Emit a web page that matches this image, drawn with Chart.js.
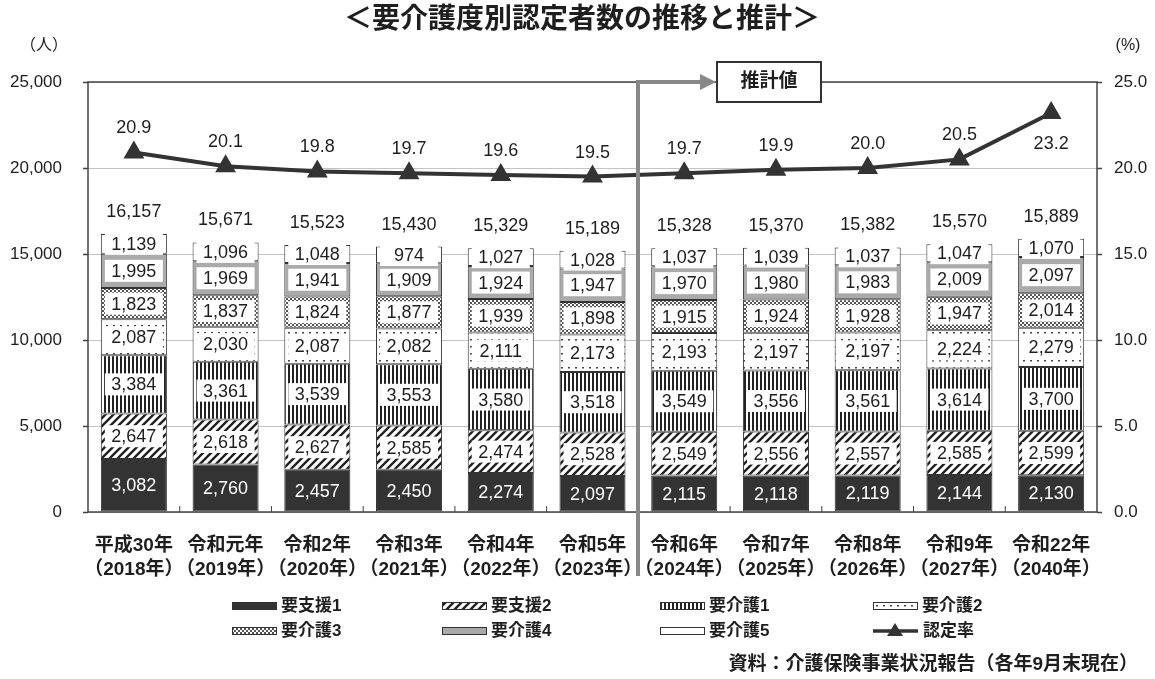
<!DOCTYPE html>
<html lang="ja">
<head>
<meta charset="utf-8">
<title>要介護度別認定者数の推移と推計</title>
<script src="https://cdn.jsdelivr.net/npm/chart.js@4.4.1/dist/chart.umd.min.js"></script>
<style>
  html, body { margin: 0; padding: 0; background: #fff; }
  canvas { display: block; }
</style>
</head>
<body>
<canvas id="chart" width="1155" height="679"></canvas>
<script>
/* ── data ──────────────────────────────────────────────────── */
const categories = [
  ["平成30年", "（2018年）"], ["令和元年", "（2019年）"], ["令和2年", "（2020年）"],
  ["令和3年", "（2021年）"], ["令和4年", "（2022年）"], ["令和5年", "（2023年）"],
  ["令和6年", "（2024年）"], ["令和7年", "（2025年）"], ["令和8年", "（2026年）"],
  ["令和9年", "（2027年）"], ["令和22年", "（2040年）"]
];
const shien1  = [3082, 2760, 2457, 2450, 2274, 2097, 2115, 2118, 2119, 2144, 2130];
const shien2  = [2647, 2618, 2627, 2585, 2474, 2528, 2549, 2556, 2557, 2585, 2599];
const kaigo1  = [3384, 3361, 3539, 3553, 3580, 3518, 3549, 3556, 3561, 3614, 3700];
const kaigo2  = [2087, 2030, 2087, 2082, 2111, 2173, 2193, 2197, 2197, 2224, 2279];
const kaigo3  = [1823, 1837, 1824, 1877, 1939, 1898, 1915, 1924, 1928, 1947, 2014];
const kaigo4  = [1995, 1969, 1941, 1909, 1924, 1947, 1970, 1980, 1983, 2009, 2097];
const kaigo5  = [1139, 1096, 1048, 974, 1027, 1028, 1037, 1039, 1037, 1047, 1070];
const totals  = [16157, 15671, 15523, 15430, 15329, 15189, 15328, 15370, 15382, 15570, 15889];
const rate    = [20.9, 20.1, 19.8, 19.7, 19.6, 19.5, 19.7, 19.9, 20.0, 20.5, 23.2];
const leftTicks  = [0, 5000, 10000, 15000, 20000, 25000];
const rightTicks = [0, 5, 10, 15, 20, 25];

const FONT = '"Liberation Sans", Arial, "Noto Sans CJK JP", sans-serif';
const INK = "#1e1e1e";

const canvas = document.getElementById("chart");
const ctx = canvas.getContext("2d");

/* ── fill patterns ─────────────────────────────────────────── */
function makePattern(size, draw) {
  const c = document.createElement("canvas");
  c.width = c.height = size;
  const g = c.getContext("2d");
  g.fillStyle = "#fff";
  g.fillRect(0, 0, size, size);
  draw(g, size);
  return ctx.createPattern(c, "repeat");
}
const patDiag = makePattern(8, (g, s) => {
  g.strokeStyle = "#222"; g.lineWidth = 2.4;
  g.beginPath();
  g.moveTo(-2, s + 2); g.lineTo(s + 2, -2);
  g.moveTo(-2, 2); g.lineTo(2, -2);
  g.moveTo(s - 2, s + 2); g.lineTo(s + 2, s - 2);
  g.stroke();
});
const patVert = makePattern(4, (g, s) => {
  g.fillStyle = "#222"; g.fillRect(0, 0, 2, s);
});
const patDots = makePattern(7, (g) => {
  g.fillStyle = "#444"; g.fillRect(1, 3, 2, 1.5);
});
const patCheck = makePattern(4, (g) => {
  g.fillStyle = "#555"; g.fillRect(0, 0, 2, 2); g.fillRect(2, 2, 2, 2);
});

const barSeries = [
  { label: "要支援1", data: shien1, fill: "#333333" },
  { label: "要支援2", data: shien2, fill: patDiag },
  { label: "要介護1", data: kaigo1, fill: patVert },
  { label: "要介護2", data: kaigo2, fill: patDots },
  { label: "要介護3", data: kaigo3, fill: patCheck },
  { label: "要介護4", data: kaigo4, fill: "#aaaaaa" },
  { label: "要介護5", data: kaigo5, fill: "#ffffff" },
];

/* ── annotations, labels, frame and legend ─────────────────── */
const decor = {
  id: "decor",
  afterDatasetsDraw(chart) {
    const c = chart.ctx;
    const area = chart.chartArea;
    const xs = chart.scales.x;
    c.save();

    // segment labels
    c.textAlign = "center";
    c.textBaseline = "middle";
    c.font = "18px " + FONT;
    barSeries.forEach((s, di) => {
      chart.getDatasetMeta(di).data.forEach((el, i) => {
        const cy = (el.y + el.base) / 2;
        const txt = s.data[i].toLocaleString("en-US");
        c.fillStyle = "#fff";
        if (di > 0) {
          c.fillRect(el.x - 29, cy - 11, 58, 22);
          c.fillStyle = INK;
        }
        c.fillText(txt, el.x, cy + 1);
      });
    });

    // totals above bars
    c.fillStyle = INK;
    chart.getDatasetMeta(6).data.forEach((el, i) => {
      c.fillText(totals[i].toLocaleString("en-US"), el.x, el.y - 22);
    });

    // rate labels (last one sits under its point)
    chart.getDatasetMeta(7).data.forEach((el, i) => {
      const dy = i === rate.length - 1 ? 31 : -24;
      c.fillText(rate[i].toFixed(1), el.x, el.y + dy);
    });

    // plot frame
    c.strokeStyle = "#444";
    c.lineWidth = 1.5;
    c.strokeRect(area.left, area.top, area.right - area.left, area.bottom - area.top);

    // outer ticks on both value axes
    leftTicks.forEach((v) => {
      const y = Math.round(chart.scales.y.getPixelForValue(v)) + 0.5;
      c.beginPath();
      c.moveTo(area.left - 5, y); c.lineTo(area.left, y);
      c.moveTo(area.right, y); c.lineTo(area.right + 5, y);
      c.stroke();
    });

    // small ticks between categories
    c.lineWidth = 1;
    for (let i = 0; i < categories.length - 1; i++) {
      const x = (xs.getPixelForValue(i) + xs.getPixelForValue(i + 1)) / 2;
      c.beginPath(); c.moveTo(x, area.bottom); c.lineTo(x, area.bottom - 6); c.stroke();
    }

    // projection divider and arrow
    const divX = Math.round((xs.getPixelForValue(5) + xs.getPixelForValue(6)) / 2);
    c.strokeStyle = "#888";
    c.lineWidth = 4;
    c.beginPath();
    c.moveTo(divX, 576);
    c.lineTo(divX, area.top);
    c.lineTo(divX + 64, area.top);
    c.stroke();
    c.fillStyle = "#888";
    c.beginPath();
    c.moveTo(divX + 78, area.top);
    c.lineTo(divX + 62, area.top - 8);
    c.lineTo(divX + 62, area.top + 8);
    c.closePath(); c.fill();

    // 推計値 box
    c.fillStyle = "#fff";
    c.fillRect(717, 62, 104, 40);
    c.strokeStyle = "#333"; c.lineWidth = 2;
    c.strokeRect(717, 62, 104, 40);
    c.fillStyle = INK;
    c.font = "bold 19px " + FONT;
    c.fillText("推計値", 769, 82);

    c.restore();
  },
  afterDraw(chart) {
    const c = chart.ctx;
    c.save();
    c.fillStyle = INK;
    c.textBaseline = "middle";

    // title
    c.textAlign = "center";
    c.font = "bold 28px " + FONT;
    c.fillText("＜要介護度別認定者数の推移と推計＞", 582, 20);

    // axis units
    c.font = "16px " + FONT;
    c.fillText("（人）", 44, 46);
    c.fillText("(%)", 1128, 46);

    // legend, 4 columns x 2 rows
    const cols = [232, 442, 660, 873];
    const rows = [606, 631];
    const order = [0, 1, 2, 3, 4, 5, 6, "rate"];
    c.font = "bold 17px " + FONT;
    c.textAlign = "left";
    order.forEach((k, n) => {
      const x = cols[n % 4];
      const y = rows[Math.floor(n / 4)];
      if (k === "rate") {
        c.strokeStyle = "#333"; c.lineWidth = 3.5;
        c.beginPath(); c.moveTo(x, y); c.lineTo(x + 45, y); c.stroke();
        c.fillStyle = "#333";
        c.beginPath(); c.moveTo(x + 22, y - 8); c.lineTo(x + 30, y + 5); c.lineTo(x + 14, y + 5);
        c.closePath(); c.fill();
        c.fillStyle = INK;
        c.fillText("認定率", x + 50, y);
      } else {
        const s = barSeries[k];
        c.fillStyle = s.fill;
        c.fillRect(x, y - 4, 45, 8);
        c.strokeStyle = "#333"; c.lineWidth = 1;
        c.strokeRect(x + 0.5, y - 3.5, 44, 7);
        c.fillStyle = INK;
        c.fillText(s.label, x + 49, y);
      }
    });

    // source note
    c.textAlign = "right";
    c.font = "bold 19px " + FONT;
    c.fillText("資料：介護保険事業状況報告（各年9月末現在）", 1138, 665);
    c.restore();
  }
};

const datasets = barSeries.map((s) => ({
  type: "bar",
  label: s.label,
  data: s.data,
  backgroundColor: s.fill,
  borderColor: "#333",
  borderWidth: 1,
  borderSkipped: false,
  yAxisID: "y",
  stack: "care",
  order: 1,
}));
datasets.push({
  type: "line",
  label: "認定率",
  data: rate,
  yAxisID: "y2",
  borderColor: "#333",
  backgroundColor: "#333",
  borderWidth: 4,
  pointStyle: "triangle",
  pointRadius: 8,
  pointBackgroundColor: "#333",
  pointBorderColor: "#333",
  tension: 0,
  order: 0,
});

new Chart(ctx, {
  data: { labels: categories, datasets },
  options: {
    responsive: false,
    animation: false,
    layout: { padding: { top: 82, left: 0, right: 0, bottom: 0 } },
    plugins: { legend: { display: false }, tooltip: { enabled: false } },
    datasets: { bar: { categoryPercentage: 1, barPercentage: 0.72 } },
    scales: {
      x: {
        stacked: true,
        offset: true,
        grid: { display: false },
        border: { display: false },
        ticks: {
          font: { family: FONT, size: 19, weight: "bold", lineHeight: 1.26 },
          color: INK,
          padding: 14,
          maxRotation: 0,
          autoSkip: false,
        },
        afterFit: (s) => { s.height = 679 - 512; },
      },
      y: {
        stacked: true,
        min: 0,
        max: 25000,
        afterBuildTicks: (s) => { s.ticks = leftTicks.map((v) => ({ value: v })); },
        grid: { color: "#c4c4c4", drawTicks: false },
        border: { display: false },
        ticks: {
          font: { family: FONT, size: 17 },
          color: INK,
          padding: 26,
          callback: (v) => v.toLocaleString("en-US"),
        },
        afterFit: (s) => { s.width = 88; },
      },
      y2: {
        position: "right",
        min: 0,
        max: 25,
        afterBuildTicks: (s) => { s.ticks = rightTicks.map((v) => ({ value: v })); },
        grid: { display: false, drawTicks: false },
        border: { display: false },
        ticks: {
          font: { family: FONT, size: 17 },
          color: INK,
          padding: 17,
          callback: (v) => v.toFixed(1),
        },
        afterFit: (s) => { s.width = 1155 - 1097; },
      },
    },
  },
  plugins: [decor],
});
</script>
</body>
</html>
